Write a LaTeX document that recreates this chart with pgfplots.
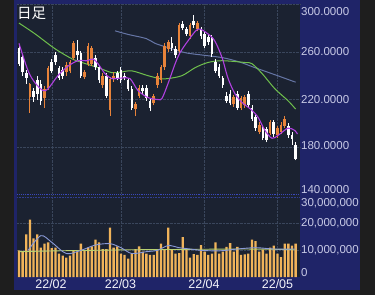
\documentclass[border=0pt]{standalone}
\usepackage{fontspec}
\setmainfont{Liberation Sans}
\newfontfamily\cjk{Noto Sans CJK JP}
\usepackage{pgfplots}
\usepackage{pgfplotstable}
\pgfplotsset{compat=1.18}
\definecolor{outer}{HTML}{1E1E1E}
\definecolor{navy}{HTML}{1F2468}
\definecolor{plotbg}{HTML}{1B2231}
\definecolor{gridc}{HTML}{3A465C}
\definecolor{upc}{HTML}{E8833A}
\definecolor{volc}{HTML}{F0B35A}
\definecolor{maA}{HTML}{B040E0}
\definecolor{maB}{HTML}{6FC04C}
\definecolor{maC}{HTML}{6676A6}
\definecolor{lab}{HTML}{C8CAE6}
\definecolor{sepc}{HTML}{3A48B8}
\definecolor{vmaA}{HTML}{8A9AD8}
\definecolor{vmaB}{HTML}{B8D070}

\pgfplotstableread{
j o h l c
3 222 234 209 233
7 221 231 213 229
8 230 248 228 246
13 243 251 240 249
14 244 253 242 251
15 255 269 253 267
18 239 245 237 243
19 250 267 248 265
20 250 265 248 263
23 232 242 230 240
25 211 239 206 237
26 237 243 235 240
32 212 218 206 216
33 223 232 221 230
37 217 225 215 223
38 232 242 230 240
39 236 249 234 247
40 247 267 245 265
41 262 270 260 268
44 261 284 259 282
47 273 284 271 282
49 279 286 277 284
59 216 224 214 222
61 213 223 211 221
62 215 224 213 222
66 193 201 191 199
69 192 203 190 201
71 190 198 188 196
72 193 201 191 199
73 198 206 196 204
}\up

\pgfplotstableread{
j o h l c
0 263 266 248 250
1 256 258 240 243
2 242 245 233 238
4 227 230 218 222
5 236 240 220 225
6 233 236 215 219
9 251 254 242 244
10 257 260 249 251
11 246 248 236 238
12 245 247 237 240
16 261 270 253 257
17 259 261 238 240
21 255 257 245 247
22 247 249 234 236
24 240 242 221 223
27 242 244 236 238
28 245 247 234 236
29 240 242 236 238
30 236 238 227 229
31 229 231 211 213
34 230 232 225 227
35 230 232 219 221
36 219 221 210 213
42 267 272 261 263
43 262 265 255 257
45 283 286 278 280
46 279 281 273 275
48 286 291 280 282
50 279 281 271 273
51 275 277 263 265
52 272 274 266 268
53 272 274 256 258
54 251 254 242 244
55 247 250 238 240
56 238 240 230 232
57 223 226 217 219
58 225 228 215 217
60 225 227 211 213
63 225 227 213 215
64 213 215 202 204
65 205 207 194 196
67 197 199 186 188
68 195 197 184 186
70 201 203 189 191
74 198 200 188 190
75 190 193 182 187
76 182 184 169 170
}\down

\pgfplotstableread{
j v
0 10
1 9.8
2 16
3 21.5
4 14.5
5 16
6 11
7 12.5
8 13
9 10.8
10 11
11 8.8
12 8
13 7.3
14 8
15 10
16 9.5
17 12.5
18 10
19 11
20 11.5
21 14
22 13
23 10.5
24 10.5
25 18.5
26 11
27 11.5
28 8.8
29 8.3
30 6.9
31 8.8
32 10.5
33 11.5
34 9.5
35 8.8
36 8.3
37 8.3
38 10
39 12.5
40 10.5
41 18.5
42 10.5
43 8.8
44 9
45 15
46 10.5
47 7.3
48 8.6
49 8.3
50 12
51 9.5
52 8.3
53 8.8
54 13
55 8.8
56 9.5
57 11.3
58 12.7
59 9.5
60 11.3
61 8.3
62 8.5
63 8.8
64 14
65 13.5
66 9.5
67 10.3
68 8.8
69 11
70 11.8
71 8.8
72 7.5
73 12.5
74 12.5
75 11.8
76 12.5
}\vol

\pgfplotsset{
  panel/.style={
    scale only axis, anchor=south west,
    width=283pt, xmin=-0.55, xmax=77.2,
    axis line style={draw=none}, tick style={draw=none},
    xtick={9,28,51,71}, xticklabels={}, yticklabels={},
    grid=major, grid style={gridc, densely dotted, line width=0.5pt},
  },
  candle/.style n args={2}{draw=none, mark=none,
    error bars/.cd, y dir=plus, y explicit, error mark=none,
    error bar style={draw=#1, line width=#2}},
}

\begin{document}
\begin{tikzpicture}
\useasboundingbox (0,0) rectangle (375pt,-295pt);
\fill[outer] (0,0) rectangle (375pt,-295pt);
\fill[navy] (14pt,0) rectangle (360pt,-290pt);
\fill[plotbg] (17pt,-4pt) rectangle (300pt,-277pt);

\begin{axis}[panel, at={(17pt,-195pt)}, height=191pt,
  ymin=140, ymax=300, ytick={180,220,260,300}]
% moving averages
\addplot[maC, line width=1pt, smooth] coordinates {
(26.4,277.5) (30,274.5) (35,271) (37.4,267) (42,262.5) (46,259) (51,257) (56,255) (60.5,251.5) (64.8,246.7) (71,240) (76,234.5)};
\addplot[maB, line width=1pt, smooth] coordinates {
(0,284) (4.4,275) (9.9,262.5) (14.6,254) (17.3,251) (21.7,246.7) (25.5,242.5) (28,243) (31,244) (35.4,240) (38.7,237.5) (40.9,237.5) (44.8,240) (48.4,246.7) (51.9,251) (55.8,252.5) (62.1,251) (64,250) (66.8,241.7) (70.3,229) (73.9,219) (76,212)};
% wicks
\addplot[candle={upc}{0.9pt}]
  table[x=j, y=l, y error plus expr=\thisrow{h}-\thisrow{l}] \up;
\addplot[candle={white}{0.9pt}]
  table[x=j, y=l, y error plus expr=\thisrow{h}-\thisrow{l}] \down;
% bodies
\addplot[candle={upc}{2.6pt}]
  table[x=j, y=o, y error plus expr=\thisrow{c}-\thisrow{o}] \up;
\addplot[candle={white}{2.6pt}]
  table[x=j, y=c, y error plus expr=\thisrow{o}-\thisrow{c}] \down;
\addplot[maA, line width=1.1pt, smooth] coordinates {
(0,267) (2.5,244) (4.4,234) (6.6,227.5) (8,229) (10.7,240) (13.5,248) (16.2,252.5) (18.7,252.5) (20.3,254) (21.7,250) (23.6,241.7) (25.5,237.5) (28.3,238) (30.5,237.5) (32.7,227.5) (35.4,221.7) (38.2,220) (39.3,221) (40.9,233) (42.9,250) (44.2,259) (46.4,269) (49.2,279) (51.9,275) (53.8,269) (55.8,255) (57.4,238) (59.3,225) (61.3,217.5) (64,211) (65.7,205) (67.6,194) (69.5,187.5) (71.2,190) (73.9,196) (75.8,194) (76.5,191)};
\end{axis}

\begin{axis}[panel, at={(17pt,-277pt)}, height=80pt,
  ymin=0, ymax=30, ytick={10,20}]
\addplot[ybar, bar width=2.3pt, fill=volc, draw=none] table[x=j, y=v] \vol;
\addplot[vmaB, line width=0.9pt, smooth] coordinates {
(0,9.5) (10,9.8) (20,10) (30,10.2) (40,10.3) (50,10.4) (60,10.5) (70,10.4) (76,10.2)};
\addplot[vmaA, line width=0.9pt, smooth] coordinates {
(2.5,10) (6,15.5) (9,13) (13,8.8) (17,10) (21,12) (25,12.5) (28,11) (31,8.8) (35,9.5) (38,10) (41,11.8) (44,11) (47,10.5) (50,10) (55,9.8) (60,10.5) (65,11) (70,10.5) (76,10.5)};
\end{axis}

\draw[sepc, densely dotted, line width=0.9pt] (17pt,-194.5pt) -- (300pt,-194.5pt);
\draw[sepc!70!plotbg, densely dotted, line width=0.6pt] (17pt,-197.5pt) -- (300pt,-197.5pt);

\node[anchor=base west, inner sep=0, text=white, font=\cjk\fontsize{14.5}{15}\selectfont] at (17pt,-18.5pt) {日足};

\begin{scope}[every node/.style={anchor=west, inner sep=0, text=lab, font=\fontsize{11.5}{12}\selectfont}]
\node at (301pt,-12pt) {300.0000};
\node at (301pt,-52pt) {260.0000};
\node at (301pt,-100pt) {220.0000};
\node at (301pt,-146pt) {180.0000};
\node at (301pt,-190pt) {140.0000};
\node at (301pt,-203pt) {30,000,000};
\node at (301pt,-223pt) {20,000,000};
\node at (301pt,-250pt) {10,000,000};
\node at (301pt,-272.5pt) {0};
\end{scope}
\begin{scope}[every node/.style={inner sep=0, text=white!80!lab, font=\fontsize{12.5}{13}\selectfont}]
\node at (51pt,-284pt) {22/02};
\node at (120.5pt,-284pt) {22/03};
\node at (204pt,-284pt) {22/04};
\node at (277.5pt,-284pt) {22/05};
\end{scope}
\end{tikzpicture}
\end{document}
